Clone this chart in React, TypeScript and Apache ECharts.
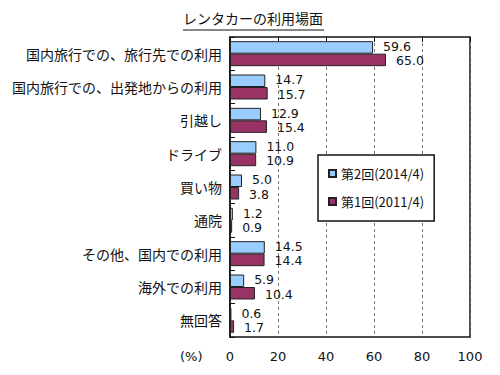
import React, { useEffect, useRef } from "react";
import * as echarts from "echarts";

const categories = [
  "国内旅行での、旅行先での利用",
  "国内旅行での、出発地からの利用",
  "引越し",
  "ドライブ",
  "買い物",
  "通院",
  "その他、国内での利用",
  "海外での利用",
  "無回答",
];
const series2014 = [59.6, 14.7, 12.9, 11.0, 5.0, 1.2, 14.5, 5.9, 0.6];
const series2011 = [65.0, 15.7, 15.4, 10.9, 3.8, 0.9, 14.4, 10.4, 1.7];
const seriesNames = ["第2回(2014/4)", "第1回(2011/4)"];
const xTicks = [0, 20, 40, 60, 80, 100];
const title = "レンタカーの利用場面";

const CJK = '"Noto Sans CJK JP", "Noto Sans", sans-serif';
const NUM = '"DejaVu Sans", Verdana, sans-serif';

export default function App() {
  const ref = useRef<HTMLDivElement>(null);
  useEffect(() => {
    if (!ref.current) return;
    const chart = echarts.init(ref.current, undefined, { renderer: "svg" });
    const labelCfg = (dy: number) => ({
      show: true,
      position: "right" as const,
      distance: 10,
      offset: [0, dy],
      color: "#111",
      fontFamily: NUM,
      fontSize: 12.5,
      lineHeight: 12,
      formatter: (p: any) => Number(p.value).toFixed(1),
    });
    chart.setOption({
      animation: false,
      backgroundColor: "#fff",
      grid: {
        left: 230,
        right: 30,
        top: 37,
        bottom: 38,
        show: true,
        borderColor: "#111",
        borderWidth: 1.5,
        backgroundColor: "transparent",
      },
      legend: {
        orient: "vertical",
        left: 318,
        top: 155,
        padding: [12, 10, 13, 10],
        itemGap: 15,
        icon: "rect",
        itemWidth: 7,
        itemHeight: 7,
        backgroundColor: "#fff",
        borderColor: "#111",
        borderWidth: 1.5,
        textStyle: { fontFamily: CJK, fontSize: 13, color: "#111" },
        data: seriesNames,
      },
      xAxis: [
        {
          type: "value",
          min: 0,
          max: 100,
          interval: 20,
          position: "bottom",
          axisLine: { show: false },
          axisTick: { show: false },
          axisLabel: {
            margin: 13,
            color: "#111",
            fontFamily: NUM,
            fontSize: 13,
            formatter: (v: number) => (xTicks.includes(v) ? String(v) : ""),
          },
          splitLine: {
            show: true,
            lineStyle: { color: "#777", type: [3, 3], width: 1 },
          },
        },
        {
          type: "value",
          min: 0,
          max: 100,
          interval: 20,
          position: "top",
          axisLine: { show: false },
          axisTick: {
            show: true,
            inside: true,
            length: 5,
            lineStyle: { color: "#111", width: 1 },
          },
          axisLabel: { show: false },
          splitLine: { show: false },
        },
      ],
      yAxis: {
        type: "category",
        inverse: true,
        data: categories,
        axisLine: { show: true, lineStyle: { color: "#111", width: 1.5 } },
        axisTick: {
          show: true,
          inside: true,
          length: 5,
          lineStyle: { color: "#111", width: 1 },
        },
        axisLabel: {
          margin: 8,
          color: "#111",
          fontFamily: CJK,
          fontSize: 14,
        },
        splitLine: { show: false },
      },
      series: [
        {
          name: seriesNames[0],
          type: "bar",
          xAxisIndex: 0,
          data: series2014,
          barGap: "0%",
          barCategoryGap: "25%",
          itemStyle: { color: "#99ccff", borderColor: "#222", borderWidth: 1 },
          label: labelCfg(-1),
        },
        {
          name: seriesNames[1],
          type: "bar",
          xAxisIndex: 0,
          data: series2011,
          barGap: "0%",
          barCategoryGap: "25%",
          itemStyle: { color: "#993366", borderColor: "#222", borderWidth: 1 },
          label: labelCfg(1),
        },
      ],
      graphic: [
        {
          type: "text",
          left: 183,
          top: 11,
          style: {
            text: title,
            fontFamily: CJK,
            fontSize: 14,
            fill: "#111",
          },
        },
        {
          type: "line",
          shape: { x1: 183, y1: 30, x2: 324, y2: 30 },
          style: { stroke: "#111", lineWidth: 1 },
        },
        {
          type: "text",
          left: 180,
          top: 350,
          style: {
            text: "(%)",
            fontFamily: NUM,
            fontSize: 13,
            fill: "#111",
          },
        },
      ],
    });
    return () => chart.dispose();
  }, []);
  return <div ref={ref} style={{ width: 500, height: 375, margin: -8 }} />;
}
